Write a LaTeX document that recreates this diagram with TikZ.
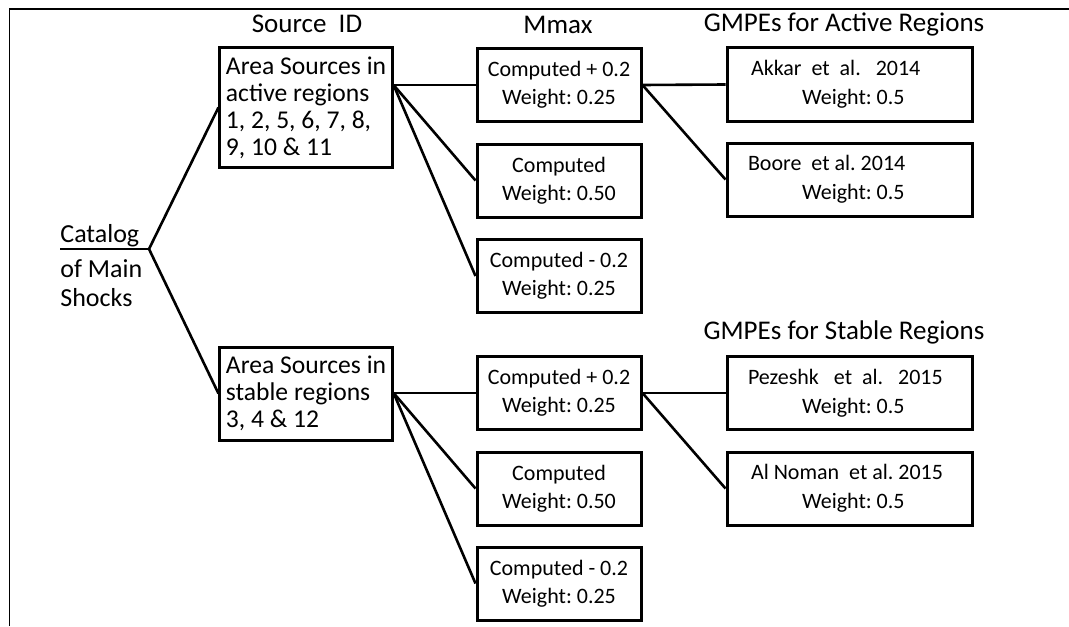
\documentclass[tikz,border=0pt]{standalone}
\usepackage{fontspec}
\setmainfont{Carlito}
\usepackage{tikz}
\usetikzlibrary{positioning}

\tikzset{
  headtext/.style={inner sep=0pt, font=\fontsize{13.5}{16}\selectfont},
  cattext/.style={inner sep=0pt, align=left, font=\fontsize{13}{14.5}\selectfont},
  srcbox/.style={draw, line width=1.5pt, minimum width=84pt, inner xsep=3pt, align=left, font=\fontsize{12.8}{13.5}\selectfont},
  mmaxbox/.style={draw, line width=1.5pt, minimum width=82pt, minimum height=36.5pt, align=center, font=\fontsize{11}{14}\selectfont},
  gmpebox/.style={draw, line width=1.5pt, minimum width=122.5pt, minimum height=36.5pt, text width=104.5pt, inner xsep=9pt, align=flush left, font=\fontsize{11}{14.5}\selectfont},
  branch/.style={line width=1.3pt}
}

\begin{document}
\frenchspacing
\begin{tikzpicture}[x=0.5pt, y=-0.5pt]
\useasboundingbox (0,0) rectangle (1069,626);
\draw[line width=0.6pt] (9.5,626) -- (9.5,9) -- (1069,9);
\node[headtext] (head_src) at (307,24) {Source~~ID};
\node[headtext] (head_mmax) at (558,25) {Mmax};
\node[headtext] (head_act) at (844,24) {GMPEs for Active Regions};
\node[headtext] (head_stb) at (844,332) {GMPEs for Stable Regions};
\node[cattext, anchor=south west] (cat_top) at (60,247) {Catalog};
\node[cattext, anchor=north west] (cat_bot) at (60,259) {of Main\\Shocks};
\coordinate (hub) at (149,249);
\node[srcbox, minimum height=59.5pt] (src_act) at (306,107.5) {Area Sources in\\active regions\\1, 2, 5, 6, 7, 8,\\9, 10 \& 11};
\node[srcbox, minimum height=46.5pt] (src_stb) at (306,393.5) {Area Sources in\\stable regions\\3, 4 \& 12};
\node[mmaxbox] (mmax_a1) at (559,85) {Computed + 0.2\\Weight: 0.25};
\node[mmaxbox] (mmax_a2) at (559,180.5) {Computed\\Weight: 0.50};
\node[mmaxbox] (mmax_a3) at (559,276) {Computed - 0.2\\Weight: 0.25};
\node[mmaxbox] (mmax_s1) at (559,393) {Computed + 0.2\\Weight: 0.25};
\node[mmaxbox] (mmax_s2) at (559,488.5) {Computed\\Weight: 0.50};
\node[mmaxbox] (mmax_s3) at (559,583.5) {Computed - 0.2\\Weight: 0.25};
\node[gmpebox] (gmpe_a1) at (849.5,84.5) {\hspace*{3pt}Akkar~~et~~al.~~~2014\\\hspace*{28.5pt}Weight: 0.5};
\node[gmpebox] (gmpe_a2) at (849.5,179.5) {\hspace*{1.5pt}Boore~~et al. 2014\\\hspace*{28.5pt}Weight: 0.5};
\node[gmpebox] (gmpe_s1) at (849.5,393) {\hspace*{1.5pt}Pezeshk~~~et~~al.~~~2015\\\hspace*{28.5pt}Weight: 0.5};
\node[gmpebox] (gmpe_s2) at (849.5,488.5) {\hspace*{3pt}Al Noman~~et al.~2015\\\hspace*{28.5pt}Weight: 0.5};
\draw[branch] (cat_top.south west |- hub) -- (hub);
\draw[branch] (hub) -- (src_act.west);
\draw[branch] (hub) -- (src_stb.west);
\coordinate (act_out) at (src_act.east |- mmax_a1.west);
\coordinate (stb_out) at (src_stb.east |- mmax_s1.west);
\foreach \k in {1,2,3} \draw[branch] (act_out) -- (mmax_a\k.west);
\foreach \k in {1,2,3} \draw[branch] (stb_out) -- (mmax_s\k.west);
\foreach \k in {1,2} \draw[branch] (mmax_a1.east) -- (gmpe_a\k.west);
\foreach \k in {1,2} \draw[branch] (mmax_s1.east) -- (gmpe_s\k.west);
\end{tikzpicture}
\end{document}
